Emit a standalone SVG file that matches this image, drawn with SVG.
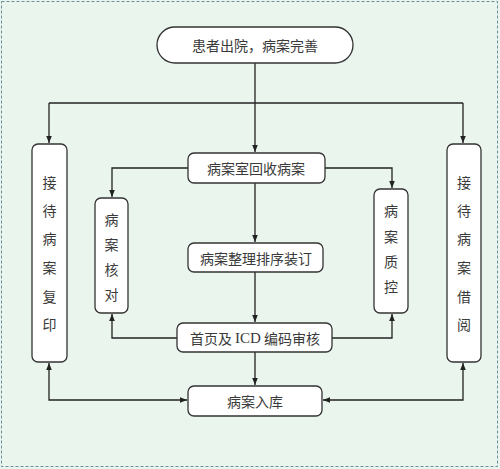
<svg xmlns="http://www.w3.org/2000/svg" width="500" height="469" viewBox="0 0 500 469">
<defs>
<marker id="ah" viewBox="0 0 10 10" refX="10" refY="5" markerWidth="7" markerHeight="7" orient="auto-start-reverse" markerUnits="userSpaceOnUse">
<path d="M0,1 L10,5 L0,9 z" fill="#222"/>
</marker>
<style>
.bx{fill:#fff;stroke:#333;stroke-width:1.3}
.t{font-family:"Noto Sans CJK SC","Liberation Serif",serif;font-size:14px;fill:#3a3a3a;text-anchor:middle;dominant-baseline:central}
.s{font-family:"Liberation Serif","Noto Sans CJK SC",serif}
.c{fill:none;stroke:#222;stroke-width:1.3}
</style>
</defs>
<rect x="0" y="0" width="500" height="469" fill="#eaf5ee"/>
<rect x="1.5" y="1.5" width="496" height="465" fill="none" stroke="#6a8fa0" stroke-width="1" stroke-dasharray="3,2"/>
<g id="connectors">
<path class="c" d="M255,63 V152" marker-end="url(#ah)"/>
<path class="c" d="M49,103 H463"/>
<path class="c" d="M49,103 V143" marker-end="url(#ah)"/>
<path class="c" d="M463,103 V143" marker-end="url(#ah)"/>
<path class="c" d="M188,168 H112 V197" marker-end="url(#ah)"/>
<path class="c" d="M325,168 H392 V188" marker-end="url(#ah)"/>
<path class="c" d="M255,183 V242" marker-end="url(#ah)"/>
<path class="c" d="M255,272 V322" marker-end="url(#ah)"/>
<path class="c" d="M177,338 H112 V314" marker-end="url(#ah)"/>
<path class="c" d="M332,338 H392 V314" marker-end="url(#ah)"/>
<path class="c" d="M255,352 V385" marker-end="url(#ah)"/>
<path class="c" d="M49,363 V400 H187" marker-start="url(#ah)" marker-end="url(#ah)"/>
<path class="c" d="M463,363 V400 H323" marker-start="url(#ah)" marker-end="url(#ah)"/>
</g>
<g id="start">
<rect class="bx" x="157" y="27" width="196" height="36" rx="18"/>
<text class="t" x="255" y="45">患者出院，病案完善</text>
</g>
<g id="receive">
<rect class="bx" x="188" y="153" width="137" height="30" rx="6"/>
<text class="t" x="256" y="168">病案室回收病案</text>
</g>
<g id="sort">
<rect class="bx" x="188" y="243" width="135" height="29" rx="6"/>
<text class="t" x="256" y="257.5">病案整理排序装订</text>
</g>
<g id="icd">
<rect class="bx" x="177" y="323" width="155" height="29" rx="6"/>
<text class="t" x="255" y="337.5">首页及 <tspan class="s" font-size="15">ICD</tspan> 编码审核</text>
</g>
<g id="store">
<rect class="bx" x="188" y="386" width="134" height="30" rx="6"/>
<text class="t" x="255" y="401">病案入库</text>
</g>
<g id="copy">
<rect class="bx" x="32" y="144" width="35" height="218" rx="6"/>
<text class="t" x="49.5" y="182">接</text>
<text class="t" x="49.5" y="210">待</text>
<text class="t" x="49.5" y="238">病</text>
<text class="t" x="49.5" y="267">案</text>
<text class="t" x="49.5" y="296">复</text>
<text class="t" x="49.5" y="324">印</text>
</g>
<g id="check">
<rect class="bx" x="95" y="198" width="33" height="115" rx="6"/>
<text class="t" x="111.5" y="219">病</text>
<text class="t" x="111.5" y="244">案</text>
<text class="t" x="111.5" y="269">核</text>
<text class="t" x="111.5" y="294">对</text>
</g>
<g id="qc">
<rect class="bx" x="374" y="189" width="34" height="124" rx="6"/>
<text class="t" x="391" y="210">病</text>
<text class="t" x="391" y="236">案</text>
<text class="t" x="391" y="261">质</text>
<text class="t" x="391" y="286">控</text>
</g>
<g id="borrow">
<rect class="bx" x="447" y="144" width="34" height="218" rx="6"/>
<text class="t" x="464" y="182">接</text>
<text class="t" x="464" y="210">待</text>
<text class="t" x="464" y="238">病</text>
<text class="t" x="464" y="267">案</text>
<text class="t" x="464" y="296">借</text>
<text class="t" x="464" y="324">阅</text>
</g>
</svg>
